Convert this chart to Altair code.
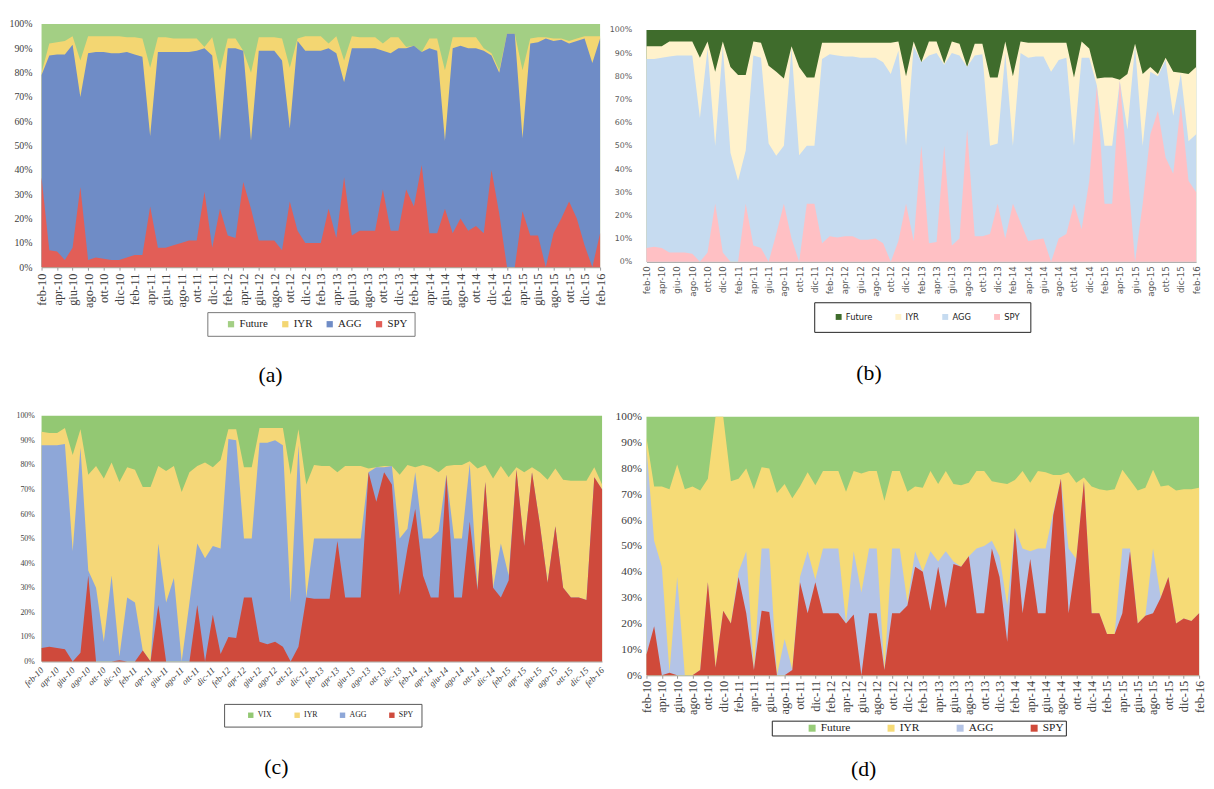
import altair as alt
import pandas as pd

MONTHS = [
    "feb-10", "mar-10", "apr-10", "mag-10", "giu-10", "lug-10", "ago-10", "set-10", "ott-10", "nov-10", "dic-10",
    "gen-11", "feb-11", "mar-11", "apr-11", "mag-11", "giu-11", "lug-11", "ago-11", "set-11", "ott-11", "nov-11", "dic-11",
    "gen-12", "feb-12", "mar-12", "apr-12", "mag-12", "giu-12", "lug-12", "ago-12", "set-12", "ott-12", "nov-12", "dic-12",
    "gen-13", "feb-13", "mar-13", "apr-13", "mag-13", "giu-13", "lug-13", "ago-13", "set-13", "ott-13", "nov-13", "dic-13",
    "gen-14", "feb-14", "mar-14", "apr-14", "mag-14", "giu-14", "lug-14", "ago-14", "set-14", "ott-14", "nov-14", "dic-14",
    "gen-15", "feb-15", "mar-15", "apr-15", "mag-15", "giu-15", "lug-15", "ago-15", "set-15", "ott-15", "nov-15", "dic-15",
    "gen-16", "feb-16",
]
TICKS = [
    "feb-10", "apr-10", "giu-10", "ago-10", "ott-10", "dic-10",
    "feb-11", "apr-11", "giu-11", "ago-11", "ott-11", "dic-11",
    "feb-12", "apr-12", "giu-12", "ago-12", "ott-12", "dic-12",
    "feb-13", "apr-13", "giu-13", "ago-13", "ott-13", "dic-13",
    "feb-14", "apr-14", "giu-14", "ago-14", "ott-14", "dic-14",
    "feb-15", "apr-15", "giu-15", "ago-15", "ott-15", "dic-15",
    "feb-16",
]
PCT_TICKS = [0, 10, 20, 30, 40, 50, 60, 70, 80, 90, 100]

# cumulative upper edge (%) of each stacked layer
# panel (a)
A_SPY = [37, 7, 6.5, 3, 8, 33, 3, 4, 3.5, 3, 3, 4, 5, 5, 25, 8, 8, 9, 10, 11,
         11, 31, 8, 24, 13, 12, 35, 24, 11, 11, 11, 7, 27, 15, 10, 10, 10, 24, 12, 37,
         13, 15, 15, 15, 32, 15, 15, 32, 25, 42, 14, 14, 24, 14, 20, 15, 17, 14, 40, 22,
         0, 0, 23, 13, 13, 0, 14, 20, 27, 20, 9, 0, 14]
A_AGG = [79, 87, 87.5, 87.5, 91.5, 70, 88, 88.5, 88.5, 88, 88, 88.5, 87.5, 86.5, 54, 88.5, 88.5, 88.5, 88.5, 88.5,
         89, 90, 87, 52, 90, 90, 89, 52, 89, 89, 89, 85, 57, 93, 89, 89, 89, 90, 88, 76,
         90, 90, 90, 90, 89, 88, 90, 90, 91, 88.5, 90, 89, 52, 90, 91, 90, 90, 89, 87, 80,
         96, 96, 53, 92, 92.5, 94, 93, 93.5, 92, 93, 94, 84, 94]
A_IYR = [80, 92, 92.5, 93, 95, 85, 95, 95, 95, 95, 95, 94.5, 94.5, 94, 82, 94.5, 94.5, 94, 94, 94,
         94, 90.5, 94.5, 81, 94, 94, 89, 80, 94.5, 94.5, 94.5, 94, 82, 94, 95, 95, 95, 92, 95, 85,
         95, 94.5, 94.5, 94.5, 92, 94.5, 94.5, 90.5, 91, 88.5, 94, 94, 81, 94.5, 94.5, 94.5, 94.5, 90, 88, 81,
         96, 96, 81, 94, 94.5, 94.5, 94, 94, 93, 94, 95, 95, 95]
# panel (b)
B_SPY = [6, 6.5, 6, 4, 4, 4, 3.5, 0, 4, 25, 4, 0, 0, 25, 7, 6, 0, 12, 25, 10,
         0, 25, 25, 8, 11, 10.5, 11, 11, 9.5, 9.5, 10, 8, 0, 9, 25, 9, 50, 8, 8.5, 50,
         7, 10, 57, 11, 11, 12, 25, 10, 25, 17, 9, 9.5, 10, 0, 10, 12, 25, 14, 35, 76,
         25, 25, 78, 40, 0, 25, 55, 65, 45, 38, 68, 35, 30]
B_AGG = [87.5, 87.5, 88, 88.5, 89, 89, 89, 62, 92, 50, 93, 47, 35, 48, 89, 88, 51, 45.7, 50, 92,
         46, 50, 50, 87.5, 89.5, 89, 88.5, 88.5, 88, 88, 88, 86, 81, 91, 50, 93, 86, 89, 90, 85,
         90, 89, 84, 89, 89.5, 50, 51, 90, 50, 90, 88, 88.5, 88.5, 82, 87, 88, 50, 88, 88, 76,
         50, 50, 78, 57, 93, 50, 82, 80, 87, 63, 81, 52, 55]
B_IYR = [93, 93, 93, 95, 95, 95, 95, 88, 95, 82, 95, 84, 80.5, 80.5, 95, 94.5, 84.5, 82, 79, 93,
         84, 79.5, 79.5, 94.5, 94.5, 94.5, 94.5, 94.5, 94.5, 94.5, 94.5, 94.5, 94.5, 95, 80, 95, 86, 95, 95, 85.5,
         95, 94, 84, 94, 94, 79.5, 79.5, 95, 80, 95, 94.5, 94.5, 94.5, 94.5, 94.5, 94.5, 79.5, 95, 92, 79,
         79.5, 79.5, 78.5, 81, 94, 81, 84, 81, 88, 82, 81.5, 81, 84]
# panel (c)
C_SPY = [5.5, 6, 5.5, 5, 0, 3.5, 35, 0, 0, 0, 0.5, 0, 0, 4.5, 0, 23, 0, 0, 0, 0,
         23, 0, 19, 3, 10, 9.5, 26, 26, 8, 7, 8, 6, 0, 6, 26, 25.5, 25.5, 25.5, 49, 26,
         26, 26, 77, 65, 77, 72, 27, 46, 62, 35, 26, 26, 76, 26, 26, 57, 29, 73, 30, 26,
         33, 78, 47, 77, 56, 32, 55, 30, 26, 26, 25, 75, 70]
C_AGG = [88, 88, 88, 88.5, 45, 87, 37, 30, 8, 35, 2, 26, 24, 4.5, 0, 48, 24, 34, 0, 24,
         48, 42, 47, 46, 90.5, 90, 50, 50, 89, 89, 90, 88, 24, 88, 26, 50, 50, 50, 50, 50,
         50, 50, 77, 79, 79, 79.5, 50, 54, 77, 50, 50, 53, 76, 50, 50, 80.5, 30, 73, 30, 48,
         35, 78, 47, 77, 56, 32, 55, 30, 26, 26, 25, 75, 70]
C_IYR = [93.5, 93, 93, 95, 84, 94.5, 76, 79.5, 74.5, 81, 73, 79, 78, 71, 71, 79.5, 77.5, 79.5, 69, 77,
         79.5, 81, 79, 82, 94.5, 94.5, 79, 79, 95, 95, 95, 95, 76, 94.5, 72, 80, 79.5, 79.5, 77, 79.5,
         79.5, 79.5, 78.5, 77.5, 79.5, 79.5, 76, 80, 79, 80, 79, 77, 79.5, 80, 80, 81.5, 78.5, 80, 74.5, 79.5,
         75, 79, 77, 79, 77, 74, 78.5, 74, 73.5, 73.5, 73.5, 79, 72]
# panel (d)
D_SPY = [8, 19, 0, 1, 0, 0, 0, 2, 36, 3, 25, 20, 38, 24, 2, 25, 24.5, 0, 0, 2,
         36, 24, 36, 24, 24, 24, 20, 23.5, 0, 24, 24, 2, 24, 24, 27, 42, 40, 25, 42, 26,
         43, 42, 46, 24, 24, 49, 38, 13, 57, 24, 45, 24, 24, 62, 76, 24, 45, 75, 24, 24,
         16, 16, 24, 48, 20, 23, 24, 30, 38, 20, 22, 21, 24]
D_AGG = [88, 52, 42, 1, 38, 0, 0, 2, 36, 3, 25, 20, 40, 48, 2, 49, 49, 0, 14, 2,
         38, 48, 37, 49, 49, 49, 20, 48, 32, 49, 49, 2, 49, 49, 28, 48, 40, 48, 44, 48,
         44, 42, 46, 49, 50, 52, 46, 27, 57, 49, 48, 49, 49, 63, 76, 49, 45, 75, 24, 24,
         16, 16, 49, 49, 20, 23, 49, 30, 38, 20, 22, 21, 24]
D_IYR = [92, 73, 73, 72, 81.5, 72, 73, 71.5, 76, 100, 100, 75, 76, 80, 72, 80.5, 80, 70.5, 74, 68.5,
         73, 78.5, 73.5, 79, 79, 79, 71, 79, 78, 79, 79, 67.5, 79, 79, 71, 73, 72.5, 79, 74, 79,
         74, 73.5, 74.5, 79, 79, 75, 74.5, 74, 75.5, 79, 74.5, 79, 78.5, 77.5, 77.5, 78.5, 74.5, 76.5, 73, 72,
         71.5, 72, 79.5, 75.5, 71.5, 72.5, 79.5, 73, 73.5, 71.5, 72, 72, 72.5]

NAMES_FUT = ["Future", "IYR", "AGG", "SPY"]
NAMES_VIX = ["VIX", "IYR", "AGG", "SPY"]
NBSP = "\u00a0"


def panel(names, colors, spy, agg, iyr, width, height, st):
    agg = [max(a, s) for a, s in zip(agg, spy)]
    iyr = [max(i, a) for i, a in zip(iyr, agg)]
    last = names[-1]
    trail = NBSP * st["trail"]
    color = alt.Color(
        "series:N",
        scale=alt.Scale(domain=names, range=colors),
        legend=alt.Legend(
            orient="none", legendX=st["lx"], legendY=st["ly"], direction="horizontal",
            title=NBSP, titleOrient="left", titlePadding=st["tpad"], titleFont=st["lfont"],
            titleFontSize=st["lsize"], titleFontWeight="normal",
            symbolType="square", symbolSize=st["ss"], symbolStrokeWidth=0,
            symbolOpacity=1, labelFont=st["lfont"], labelFontSize=st["lsize"],
            labelExpr=f"datum.label == '{last}' ? datum.label + '{trail}' : datum.label",
            labelColor="#222222", padding=st["lpad"], strokeColor=st["lstroke"],
            fillColor="white", columnPadding=st["lcol"], labelOffset=3,
        ),
    )
    x = alt.X(
        "month:N", sort=MONTHS, scale=alt.Scale(padding=0),
        axis=alt.Axis(
            values=TICKS, title=None, labelAngle=st["xangle"], labelAlign="right",
            labelBaseline="middle", labelFont=st["font"], labelFontSize=st["xsize"],
            labelFontStyle=st["xstyle"], labelColor=st["lc"], labelPadding=st["xpad"],
            ticks=st["xticks"], tickSize=3, tickColor="#9a9a9a", domainColor="#9a9a9a",
            labelOverlap=False, grid=False,
        ),
    )
    yscale = alt.Scale(domain=[0, 100], nice=False)
    yaxis = alt.Axis(
        values=PCT_TICKS, labelExpr="datum.value + '%'", title=None, domain=False,
        ticks=False, grid=False, labelFont=st["font"], labelFontSize=st["ysize"],
        labelColor=st["lc"], labelPadding=st["ypad"],
    )
    fut_df = pd.DataFrame({"month": MONTHS, "series": names[0]})
    layers = [
        alt.Chart(fut_df).mark_area(interpolate="linear", opacity=1).encode(
            x=x, y=alt.YDatum(100, scale=yscale, axis=yaxis), color=color
        )
    ]
    for name, top in zip(names[1:], [iyr, agg, spy]):
        d = pd.DataFrame({"month": MONTHS, "series": name, "top": top})
        layers.append(
            alt.Chart(d).mark_area(interpolate="linear", opacity=1).encode(
                x=x, y=alt.Y("top:Q", stack=None, scale=yscale, axis=yaxis), color=color
            )
        )
    return alt.layer(*layers).properties(
        width=width, height=height,
        title=alt.TitleParams(
            st["cap"], orient="bottom", anchor="middle", frame="group",
            font="Liberation Serif", fontSize=22, fontWeight="normal", color="black",
            dx=st["cdx"], offset=st["coff"],
        ),
    )


pa = panel(NAMES_FUT, ["#A3CF84", "#F3D672", "#6F8CC6", "#E25E57"], A_SPY, A_AGG, A_IYR, 566, 246.5,
           dict(lx=168, ly=292, ss=40, lfont="Liberation Serif", lsize=11, lpad=6.5, lstroke="#777777", lcol=12,
                tpad=12, trail=5,
                xangle=-90, font="Liberation Serif", xsize=12.5, xstyle="normal", lc="#404040", xpad=3,
                xticks=True, ysize=10, ypad=9.7, cap="(a)", cdx=-51, coff=29))
pb = panel(NAMES_FUT, ["#3F6C2C", "#FFF2CC", "#C6DBF0", "#FFC0C4"], B_SPY, B_AGG, B_IYR, 557, 235,
           dict(lx=170, ly=276, ss=36, lfont="DejaVu Sans", lsize=8.5, lpad=10.5, lstroke="#222222", lcol=21.5,
                tpad=10, trail=4,
                xangle=-90, font="DejaVu Sans", xsize=8.8, xstyle="normal", lc="#595959", xpad=4,
                xticks=False, ysize=8, ypad=15, cap="(b)", cdx=-53, coff=31))
pc = panel(NAMES_VIX, ["#93C873", "#F5D778", "#8EA7D8", "#CF4A3C"], C_SPY, C_AGG, C_IYR, 568, 249,
           dict(lx=185, ly=292, ss=30, lfont="Liberation Serif", lsize=8, lpad=7.5, lstroke="#555555", lcol=21,
                tpad=15.5, trail=9,
                xangle=-45, font="Liberation Serif", xsize=9, xstyle="italic", lc="#404040", xpad=7,
                xticks=False, ysize=8, ypad=7.3, cap="(c)", cdx=-46, coff=31))
pd_ = panel(NAMES_FUT, ["#97CC78", "#F6DB76", "#B4C4E6", "#D04A3A"], D_SPY, D_AGG, D_IYR, 560, 262,
            dict(lx=127, ly=308, ss=50, lfont="Liberation Serif", lsize=11.5, lpad=1.5, lstroke="#222222", lcol=35,
                 tpad=33.6, trail=14,
                 xangle=-90, font="Liberation Serif", xsize=12.5, xstyle="normal", lc="#404040", xpad=2,
                 xticks=True, ysize=11.5, ypad=5, cap="(d)", cdx=-60, coff=24))

spacer = alt.Chart(pd.DataFrame({"month": ["feb-10"]})).mark_point(opacity=0, size=1).properties(width=1, height=1)

col1 = alt.vconcat(pa, pc, spacing=26).resolve_scale(color="independent").resolve_legend(color="independent")
col2_top = alt.vconcat(spacer, pb, spacing=1).resolve_scale(color="independent").resolve_legend(color="independent")
col2 = alt.vconcat(col2_top, pd_, spacing=27).resolve_scale(color="independent").resolve_legend(color="independent")

chart = (
    alt.hconcat(col1, col2, spacing=2)
    .resolve_scale(color="independent")
    .resolve_legend(color="independent")
    .properties(padding={"left": 0, "top": 6, "right": 0, "bottom": 0}, background="white")
    .configure_view(stroke=None)
)

chart.save("out.html", embed_options={"renderer": "svg", "actions": False})
